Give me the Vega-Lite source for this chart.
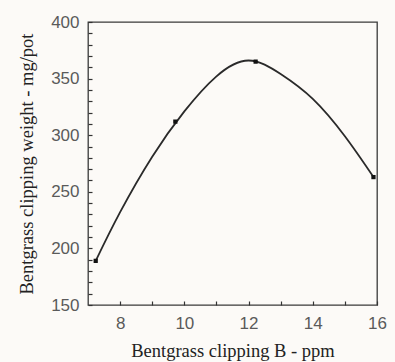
{
  "$schema": "https://vega.github.io/schema/vega-lite/v6.json",
  "width": 289,
  "height": 283,
  "autosize": "none",
  "padding": {"left": 88, "top": 22, "right": 18, "bottom": 57},
  "background": "#fcfaf7",
  "config": {
    "view": {"stroke": "#3a3a3a", "strokeWidth": 1.3},
    "axis": {
      "domain": false,
      "grid": false,
      "ticks": true,
      "tickColor": "#333",
      "tickWidth": 1.2,
      "labelFont": "Liberation Sans",
      "labelFontSize": 17,
      "labelColor": "#5a5a5a",
      "titleFont": "Liberation Serif",
      "titleFontSize": 18.5,
      "titleFontWeight": "normal",
      "titleColor": "#222"
    }
  },
  "datasets": {
    "curve": [
      {"B": 7.24, "w": 189},
      {"B": 8.0, "w": 232},
      {"B": 9.0, "w": 281},
      {"B": 10.0, "w": 321},
      {"B": 11.0, "w": 352},
      {"B": 12.0, "w": 366},
      {"B": 13.0, "w": 354},
      {"B": 14.0, "w": 332},
      {"B": 15.0, "w": 299},
      {"B": 15.89, "w": 263}
    ],
    "obs": [
      {"B": 7.24, "w": 189},
      {"B": 9.72, "w": 312},
      {"B": 12.22, "w": 365},
      {"B": 15.89, "w": 263}
    ]
  },
  "layer": [
    {
      "data": {"name": "curve"},
      "mark": {"type": "line", "color": "#2a2a2a", "strokeWidth": 1.8, "interpolate": "natural"},
      "encoding": {
        "x": {
          "field": "B", "type": "quantitative",
          "scale": {"domain": [7, 16], "nice": false, "zero": false},
          "axis": {
            "title": "Bentgrass clipping B - ppm",
            "values": [8, 9, 10, 11, 12, 13, 14, 15, 16],
            "tickCount": 50,
            "format": "d",
            "labelExpr": "datum.value % 2 == 0 ? datum.label : ''",
            "labelOverlap": false,
            "labelFlush": false,
            "tickSize": -4,
            "labelPadding": 14,
            "titlePadding": 10
          }
        },
        "y": {
          "field": "w", "type": "quantitative",
          "scale": {"domain": [150, 400], "nice": false, "zero": false},
          "axis": {
            "title": "Bentgrass clipping weight - mg/pot",
            "values": [150, 160, 170, 180, 190, 200, 210, 220, 230, 240, 250, 260, 270, 280, 290, 300, 310, 320, 330, 340, 350, 360, 370, 380, 390, 400],
            "tickCount": 100,
            "format": "d",
            "labelExpr": "datum.value % 50 == 0 ? datum.label : ''",
            "labelOverlap": false,
            "labelFlush": false,
            "tickSize": -4,
            "labelPadding": 13,
            "titlePadding": 14
          }
        }
      }
    },
    {
      "data": {"name": "obs"},
      "mark": {"type": "point", "shape": "square", "filled": true, "color": "#111", "size": 18, "opacity": 1},
      "encoding": {
        "x": {"field": "B", "type": "quantitative"},
        "y": {"field": "w", "type": "quantitative"}
      }
    }
  ]
}
